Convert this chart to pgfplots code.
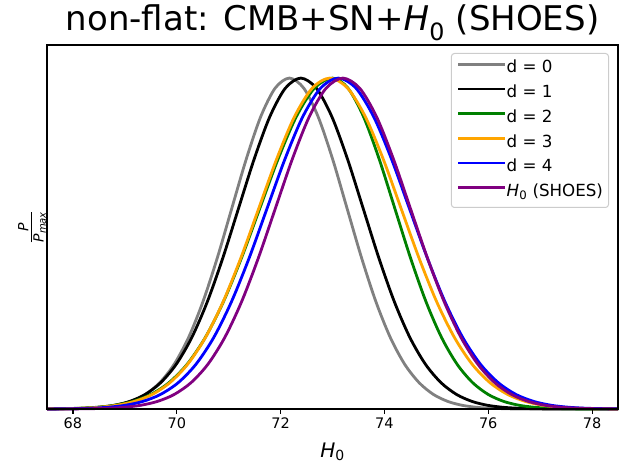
\documentclass[border=0pt]{standalone}
\usepackage{fontspec}
\setmainfont{DejaVu Sans}[ItalicFont={DejaVu Sans Oblique},BoldFont={DejaVu Sans Bold}]
\usepackage{amsmath}
\usepackage{pgfplots}
\pgfplotsset{compat=1.18}
\definecolor{mplgreen}{HTML}{008000}
\definecolor{mplorange}{HTML}{FFA500}
\definecolor{mplpurple}{HTML}{800080}
\definecolor{mplgray}{HTML}{808080}
\definecolor{mplblue}{HTML}{0000FF}
\newcommand{\Hnot}{\textit{H}\textsubscript{0}}
\begin{document}
\begin{tikzpicture}
\useasboundingbox (-47pt,-64pt) rectangle (581pt,409pt);
\begin{axis}[
  at={(0pt,0pt)}, anchor=south west,
  scale only axis, width=571pt, height=364pt,
  xmin=67.5, xmax=78.5, ymin=0, ymax=1.1,
  xtick={68,70,72,74,76,78}, ytick=\empty,
  xtick pos=bottom,
  tick align=outside, major tick length=4.9pt,
  tick style={black, line width=1.1pt},
  axis line style={line width=1.1pt},
  clip=false, axis on top,
  ticklabel style={font=\fontsize{14.5}{17}\selectfont},
  /pgf/number format/assume math mode=true,
  title={non-flat: CMB+SN+\Hnot{} (SHOES)},
  title style={font=\fontsize{34}{40}\selectfont, at={(0.5,1.022)}, anchor=base, inner sep=0pt},
  xlabel={\Hnot},
  xlabel style={font=\fontsize{20}{24}\selectfont, at={(0.5,-0.1319)}, anchor=base, inner sep=0pt},
  ylabel={$\frac{\textit{P}}{\textit{P}_{\textit{max}}}$},
  ylabel style={font=\fontsize{20}{24}\selectfont, at={(-0.0263,0.5)}, anchor=center, inner sep=0pt},
  legend cell align=left,
  legend style={at={(1,1)}, anchor=north east, xshift=-9pt, yshift=-8pt,
    draw=black!20, line width=1pt, rounded corners=3pt, fill=white,
    font=\fontsize{16.7}{19}\selectfont,
    inner xsep=5.5pt, inner ysep=7.5pt, row sep=9.2pt, column sep=0pt,
    nodes={inner sep=0pt, text height=12pt, text depth=3.5pt}},
  legend image code/.code={\draw[#1, line width=2.8pt] (0pt,4.5pt) -- (34pt,4.5pt); \path (0pt,4.5pt) -- (47pt,4.5pt);},
  every axis plot/.append style={line width=2.8pt, smooth, no markers},
]
\addplot[mplgray] coordinates {
(67.5,0.0001) (67.730,0.0003) (68.008,0.0009) (68.285,0.0022) (68.563,0.0051) (68.840,0.0111) (69.118,0.0228) (69.395,0.0439) (69.673,0.0796) (69.950,0.1353) (70.228,0.2163) (70.505,0.3247) (70.783,0.4578) (71.060,0.6065) (71.338,0.7548) (71.615,0.8825) (71.893,0.9692) (72.170,1.0000) (72.448,0.9692) (72.725,0.8825) (73.003,0.7548) (73.280,0.6065) (73.558,0.4578) (73.835,0.3247) (74.113,0.2163) (74.390,0.1353) (74.668,0.0796) (74.945,0.0439) (75.223,0.0228) (75.500,0.0111) (75.778,0.0051) (76.055,0.0022) (76.333,0.0009) (76.610,0.0003) (78.5,0.0000)
};
\addlegendentry{d = 0}
\addplot[black] coordinates {
(67.5,0.0002) (67.59,0.0003) (67.89,0.0009) (68.19,0.0022) (68.49,0.0051) (68.79,0.0111) (69.09,0.0228) (69.39,0.0439) (69.69,0.0796) (69.99,0.1353) (70.29,0.2163) (70.59,0.3247) (70.89,0.4578) (71.19,0.6065) (71.49,0.7548) (71.79,0.8825) (72.09,0.9692) (72.39,1.0000) (72.69,0.9692) (72.99,0.8825) (73.29,0.7548) (73.59,0.6065) (73.89,0.4578) (74.19,0.3247) (74.49,0.2163) (74.79,0.1353) (75.09,0.0796) (75.39,0.0439) (75.69,0.0228) (75.99,0.0111) (76.29,0.0051) (76.59,0.0022) (76.89,0.0009) (77.19,0.0003) (78.5,0.0000)
};
\addlegendentry{d = 1}
\addplot[mplgreen] coordinates {
(67.5,0.0005) (67.75,0.0009) (68.10,0.0022) (68.45,0.0051) (68.80,0.0111) (69.15,0.0228) (69.50,0.0439) (69.85,0.0796) (70.20,0.1353) (70.55,0.2163) (70.90,0.3247) (71.25,0.4578) (71.60,0.6065) (71.95,0.7548) (72.30,0.8825) (72.65,0.9692) (73.00,1.0000) (73.30,0.9692) (73.60,0.8825) (73.90,0.7548) (74.20,0.6065) (74.50,0.4578) (74.80,0.3247) (75.10,0.2163) (75.40,0.1353) (75.70,0.0796) (76.00,0.0439) (76.30,0.0228) (76.60,0.0111) (76.90,0.0051) (77.20,0.0022) (77.50,0.0009) (77.80,0.0003) (78.5,0.0000)
};
\addlegendentry{d = 2}
\addplot[mplorange] coordinates {
(67.5,0.0004) (67.813,0.0009) (68.155,0.0022) (68.498,0.0051) (68.840,0.0111) (69.183,0.0228) (69.525,0.0439) (69.868,0.0796) (70.210,0.1353) (70.553,0.2163) (70.895,0.3247) (71.238,0.4578) (71.580,0.6065) (71.923,0.7548) (72.265,0.8825) (72.608,0.9692) (72.950,1.0000) (73.293,0.9692) (73.635,0.8825) (73.978,0.7548) (74.320,0.6065) (74.663,0.4578) (75.005,0.3247) (75.348,0.2163) (75.690,0.1353) (76.033,0.0796) (76.375,0.0439) (76.718,0.0228) (77.060,0.0111) (77.403,0.0051) (77.745,0.0022) (78.088,0.0009) (78.430,0.0003) (78.5,0.0002)
};
\addlegendentry{d = 3}
\addplot[mplblue] coordinates {
(67.5,0.0002) (67.630,0.0003) (67.973,0.0009) (68.315,0.0022) (68.658,0.0051) (69.000,0.0111) (69.343,0.0228) (69.685,0.0439) (70.028,0.0796) (70.370,0.1353) (70.713,0.2163) (71.055,0.3247) (71.398,0.4578) (71.740,0.6065) (72.083,0.7548) (72.425,0.8825) (72.768,0.9692) (73.110,1.0000) (73.453,0.9692) (73.795,0.8825) (74.138,0.7548) (74.480,0.6065) (74.823,0.4578) (75.165,0.3247) (75.508,0.2163) (75.850,0.1353) (76.193,0.0796) (76.535,0.0439) (76.878,0.0228) (77.220,0.0111) (77.563,0.0051) (77.905,0.0022) (78.248,0.0009) (78.5,0.0005)
};
\addlegendentry{d = 4}
\addplot[mplpurple] coordinates {
(67.5,0.0000) (68.000,0.0003) (68.325,0.0009) (68.650,0.0022) (68.975,0.0051) (69.300,0.0111) (69.625,0.0228) (69.950,0.0439) (70.275,0.0796) (70.600,0.1353) (70.925,0.2163) (71.250,0.3247) (71.575,0.4578) (71.900,0.6065) (72.225,0.7548) (72.550,0.8825) (72.875,0.9692) (73.200,1.0000) (73.525,0.9692) (73.850,0.8825) (74.175,0.7548) (74.500,0.6065) (74.825,0.4578) (75.150,0.3247) (75.475,0.2163) (75.800,0.1353) (76.125,0.0796) (76.450,0.0439) (76.775,0.0228) (77.100,0.0111) (77.425,0.0051) (77.750,0.0022) (78.075,0.0009) (78.400,0.0003) (78.5,0.0002)
};
\addlegendentry{\Hnot{} (SHOES)}
\end{axis}
\end{tikzpicture}
\end{document}
